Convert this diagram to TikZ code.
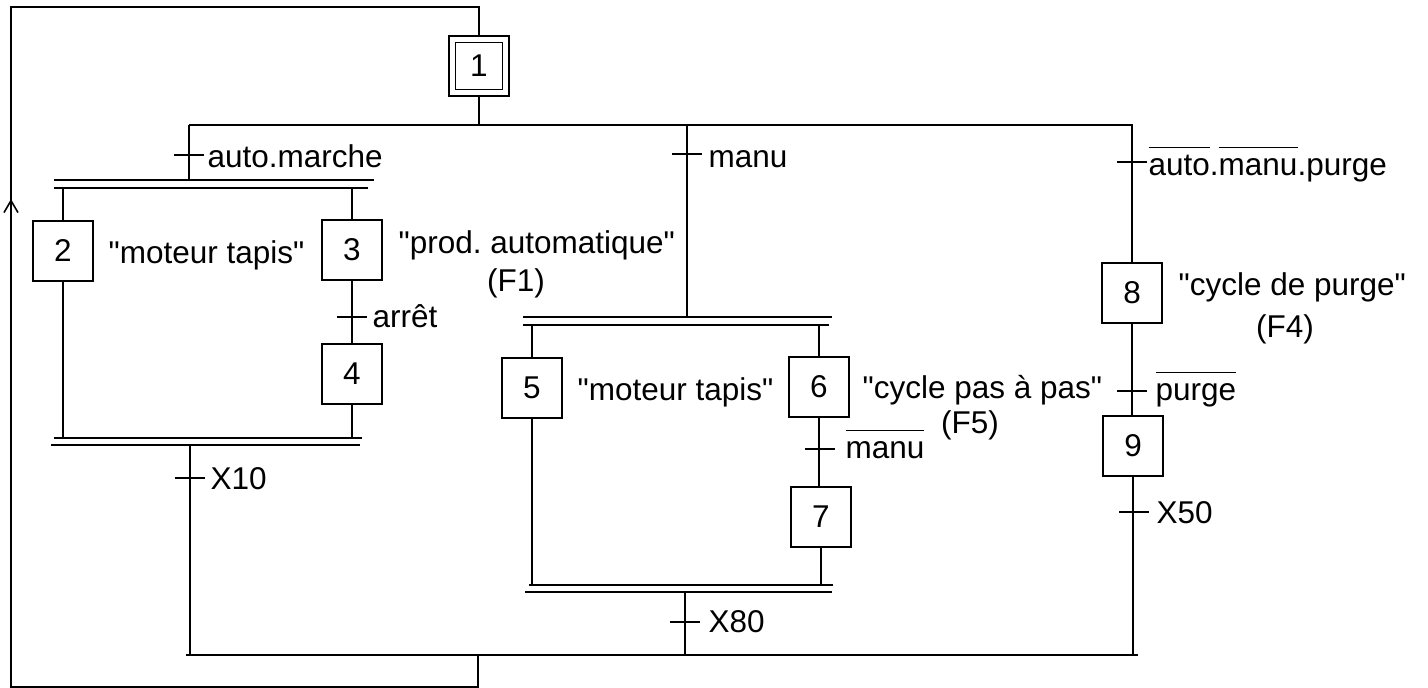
\documentclass[tikz,border=0pt]{standalone}
\usepackage{fontspec}
\setmainfont{Liberation Sans}[Ligatures=TeXOff]
\usetikzlibrary{arrows.meta}
\newcommand\ovlx[1]{\setbox0=\hbox{#1}\rlap{\raisebox{27pt}{\rule{\wd0}{1.2pt}}}\box0}
\frenchspacing
\begin{document}
\begin{tikzpicture}[x=1pt,y=-1pt,line width=1.3pt,
  every node/.style={font=\fontsize{31.5}{37}\selectfont},
  stepbox/.style={draw,minimum width=60pt,minimum height=60pt,inner sep=0pt},
  lbl/.style={anchor=base west,inner sep=0pt},
  clbl/.style={anchor=base,inner sep=0pt}]
\useasboundingbox (0,0) rectangle (1428,688);

% steps
\node[stepbox] (s1o) at (479,66) {};
\node[draw,minimum width=47pt,minimum height=47pt,inner sep=0pt] (s1) at (479,66) {1};
\node[stepbox] (s2) at (63,251) {2};
\node[stepbox] (s3) at (352,250) {3};
\node[stepbox] (s4) at (352,374) {4};
\node[stepbox] (s5) at (532,388) {5};
\node[stepbox] (s6) at (819,387) {6};
\node[stepbox] (s7) at (821,517) {7};
\node[stepbox] (s8) at (1132,293) {8};
\node[stepbox] (s9) at (1133,446) {9};

% coordinates
\coordinate (lpTR) at (479,7);
\coordinate (lpTL) at (11,7);
\coordinate (lpBL) at (11,687);
\coordinate (lpBR) at (478,687);
\coordinate (h2M) at (478,655);
\coordinate (arS) at (11,278);
\coordinate (arE) at (11,199);
\coordinate (h1L) at (189,125);
\coordinate (h1M) at (687,125);
\coordinate (h1R) at (1133,125);
\coordinate (h2L) at (186,655);
\coordinate (h2R) at (1138,655);
% bars
\coordinate (aU1) at (54,180); \coordinate (aU2) at (374,180);
\coordinate (aL1) at (54,188); \coordinate (aL2) at (368,188);
\coordinate (bU1) at (54,438); \coordinate (bU2) at (362,438);
\coordinate (bL1) at (51,445); \coordinate (bL2) at (360,445);
\coordinate (cU1) at (523,317); \coordinate (cU2) at (832,317);
\coordinate (cL1) at (523,325); \coordinate (cL2) at (829,325);
\coordinate (dU1) at (529,585); \coordinate (dU2) at (833,585);
\coordinate (dL1) at (525,592); \coordinate (dL2) at (832,592);
% transitions
\coordinate (t1) at (189,155);
\coordinate (t2) at (352,317);
\coordinate (t3) at (190,478);
\coordinate (t4) at (687,154);
\coordinate (t5) at (820,449);
\coordinate (t6) at (685,622);
\coordinate (t7) at (1132,162);
\coordinate (t8) at (1132,391);
\coordinate (t9) at (1134,512);

% loop back
\draw (s1o.north) -- (lpTR) -- (lpTL) -- (lpBL) -- (lpBR) -- (h2M);
\draw[line width=2.2pt,-{Straight Barb[length=12pt,width=14pt,line width=1.6pt]}] (arS) -- (arE);

% main divergence
\draw (h1L) -- (h1R);
\draw (s1o.south) -- (s1o.south |- h1L);

% left branch
\draw (h1L) -- (h1L |- aU1);
\draw (aU1) -- (aU2);
\draw (aL1) -- (aL2);
\draw (s2.north |- aL1) -- (s2.north);
\draw (s3.north |- aL1) -- (s3.north);
\draw (s3.south) -- (s4.north);
\draw (s2.south) -- (s2.south |- bU1);
\draw (s4.south) -- (s4.south |- bU1);
\draw (bU1) -- (bU2);
\draw (bL1) -- (bL2);
\draw (t3 |- bL1) -- (t3 |- h2L);

% middle branch
\draw (h1M) -- (h1M |- cU1);
\draw (cU1) -- (cU2);
\draw (cL1) -- (cL2);
\draw (s5.north |- cL1) -- (s5.north);
\draw (s6.north |- cL1) -- (s6.north);
\draw (s6.south) -- (s6.south |- s7.north);
\draw (s5.south) -- (s5.south |- dU1);
\draw (s7.south) -- (s7.south |- dU1);
\draw (dU1) -- (dU2);
\draw (dL1) -- (dL2);
\draw (t6 |- dL1) -- (t6 |- h2L);

% right branch
\draw (t7 |- h1R) -- (t7 |- s8.north);
\draw (s8.south) -- (s8.south |- s9.north);
\draw (s9.south) -- (s9.south |- h2R);

% bottom convergence
\draw (h2L) -- (h2R);

% transition ticks
\foreach \t in {t1,t2,t3,t4,t5,t6,t7,t8,t9}
  \draw ([xshift=-15pt]\t) -- ([xshift=15pt]\t);

% transition labels
\node[lbl] (r1) at (207,167) {auto.marche};
\node[lbl] (r2) at (372,327) {arrêt};
\node[lbl] (r3) at (210,489) {X10};
\node[lbl] (r4) at (708,167) {manu};
\node[lbl] (r5) at (845,458) {\ovlx{manu}};
\node[lbl] (r6) at (708,632) {X80};
\node[lbl] (r7) at (1148,175) {\ovlx{auto}.\ovlx{manu}.purge};
\node[lbl] (r8) at (1155,400) {\ovlx{purge}};
\node[lbl] (r9) at (1156,523) {X50};

% actions
\node[lbl] (a2) at (108,263) {"moteur tapis"};
\node[lbl] (a3) at (398,253) {"prod. automatique"};
\node[clbl] (a3b) at (516,291) {(F1)};
\node[lbl] (a5) at (577,400) {"moteur tapis"};
\node[lbl] (a6) at (862,398) {"cycle pas à pas"};
\node[clbl] (a6b) at (970,433) {(F5)};
\node[lbl] (a8) at (1178,295) {"cycle de purge"};
\node[clbl] (a8b) at (1285,337) {(F4)};
\end{tikzpicture}
\end{document}
